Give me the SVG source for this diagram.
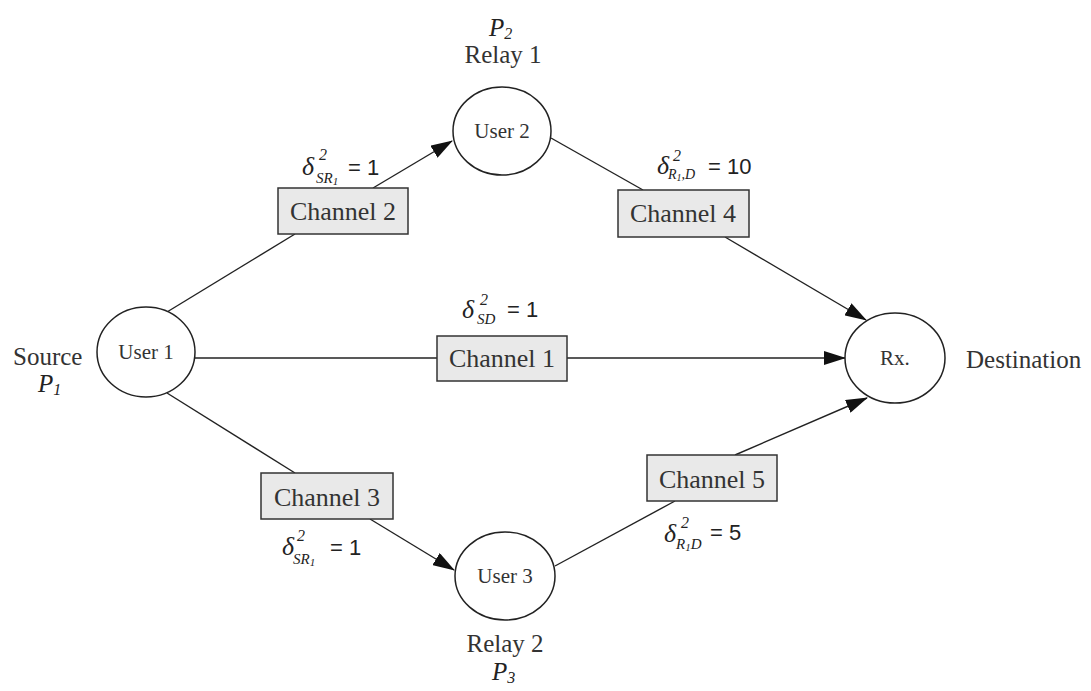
<svg xmlns="http://www.w3.org/2000/svg" width="1091" height="691" viewBox="0 0 1091 691">
<defs>
<style>
.node ellipse{fill:#fff;stroke:#222;stroke-width:1.5}
.box rect{fill:#e9e9e9;stroke:#333;stroke-width:1.5}
.ch{font-family:"Liberation Serif",serif;font-size:26px;fill:#333;text-anchor:middle}
.un{font-family:"Liberation Serif",serif;font-size:21px;fill:#333;text-anchor:middle}
.big{font-family:"Liberation Serif",serif;font-size:25px;fill:#333}
.it{font-family:"Liberation Serif",serif;font-style:italic;fill:#222}
.eq{font-family:"Liberation Sans",sans-serif;font-size:22px;fill:#222}
#connectors line{stroke:#222;stroke-width:1.4}
</style>
<marker id="arr" markerUnits="userSpaceOnUse" markerWidth="22" markerHeight="14" viewBox="0 0 22 14" refX="21" refY="7" orient="auto">
<path d="M0,0 L22,7 L0,14 z" fill="#111"/>
</marker>
</defs>
<rect width="1091" height="691" fill="#fff"/>

<g id="connectors">
<line x1="167" y1="312" x2="295" y2="234"/>
<line x1="373" y1="188" x2="452" y2="141" marker-end="url(#arr)"/>
<line x1="551" y1="138" x2="643" y2="190"/>
<line x1="725" y1="237" x2="866" y2="320" marker-end="url(#arr)"/>
<line x1="195" y1="358" x2="437" y2="358"/>
<line x1="567" y1="358" x2="845" y2="358" marker-end="url(#arr)"/>
<line x1="167" y1="393" x2="295" y2="473"/>
<line x1="370" y1="519" x2="454" y2="570" marker-end="url(#arr)"/>
<line x1="555" y1="566" x2="675" y2="501"/>
<line x1="735" y1="455" x2="867" y2="398" marker-end="url(#arr)"/>
</g>

<g id="user1" class="node">
<ellipse cx="146" cy="352" rx="49" ry="45"/>
<text class="un" x="146" y="359">User 1</text>
</g>
<g id="user2" class="node">
<ellipse cx="502" cy="131" rx="49" ry="44"/>
<text class="un" x="502" y="138">User 2</text>
</g>
<g id="user3" class="node">
<ellipse cx="505" cy="576" rx="50" ry="44"/>
<text class="un" x="505" y="583">User 3</text>
</g>
<g id="rx" class="node">
<ellipse cx="895" cy="358" rx="50" ry="45"/>
<text class="un" x="895" y="365">Rx.</text>
</g>

<g id="channel2" class="box">
<rect x="278" y="188" width="130" height="46"/>
<text class="ch" x="343" y="220">Channel 2</text>
</g>
<g id="channel4" class="box">
<rect x="618" y="190" width="131" height="47"/>
<text class="ch" x="683" y="222">Channel 4</text>
</g>
<g id="channel1" class="box">
<rect x="437" y="336" width="130" height="45"/>
<text class="ch" x="502" y="367">Channel 1</text>
</g>
<g id="channel3" class="box">
<rect x="261" y="473" width="132" height="46"/>
<text class="ch" x="327" y="506">Channel 3</text>
</g>
<g id="channel5" class="box">
<rect x="647" y="455" width="130" height="46"/>
<text class="ch" x="712" y="488">Channel 5</text>
</g>

<g id="labels">
<text class="big" x="13" y="365">Source</text>
<text class="it" x="38" y="392" font-size="25">P<tspan font-size="16" dy="3">1</tspan></text>
<text class="big" x="966" y="368">Destination</text>
<text class="big" x="503" y="63" text-anchor="middle">Relay 1</text>
<text class="it" x="489" y="36" font-size="25">P<tspan font-size="16" dy="3">2</tspan></text>
<text class="big" x="505" y="652" text-anchor="middle">Relay 2</text>
<text class="it" x="492" y="680" font-size="25">P<tspan font-size="16" dy="3">3</tspan></text>
</g>

<g id="sigma-sr1-top">
<text class="it" x="302" y="175" font-size="26">δ</text>
<text class="it" x="319" y="160" font-size="16">2</text>
<text class="it" x="316" y="183" font-size="15">SR<tspan font-size="11" dy="2">1</tspan></text>
<text class="eq" x="348" y="175">= 1</text>
</g>
<g id="sigma-r1d-top">
<text class="it" x="657" y="174" font-size="26">δ</text>
<text class="it" x="673" y="161" font-size="16">2</text>
<text class="it" x="668" y="179" font-size="14">R<tspan font-size="10" dy="2">1</tspan><tspan dy="-2">,D</tspan></text>
<text class="eq" x="708" y="174">= 10</text>
</g>
<g id="sigma-sd">
<text class="it" x="462" y="318" font-size="26">δ</text>
<text class="it" x="480" y="305" font-size="16">2</text>
<text class="it" x="477" y="324" font-size="15">SD</text>
<text class="eq" x="507" y="317">= 1</text>
</g>
<g id="sigma-sr1-bottom">
<text class="it" x="282" y="555" font-size="26">δ</text>
<text class="it" x="297" y="541" font-size="16">2</text>
<text class="it" x="293" y="564" font-size="15">SR<tspan font-size="11" dy="2">1</tspan></text>
<text class="eq" x="330" y="555">= 1</text>
</g>
<g id="sigma-r1d-bottom">
<text class="it" x="664" y="542" font-size="26">δ</text>
<text class="it" x="681" y="528" font-size="16">2</text>
<text class="it" x="676" y="549" font-size="15">R<tspan font-size="11" dy="2">1</tspan><tspan dy="-2">D</tspan></text>
<text class="eq" x="710" y="540">= 5</text>
</g>
</svg>
